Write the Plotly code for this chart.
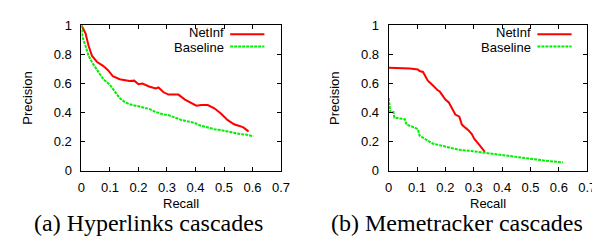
import plotly.graph_objects as go

# Hyperlinks cascades (left)
hyp_netinf_recall = [0.0, 0.014, 0.025, 0.037, 0.054, 0.077, 0.094, 0.11, 0.134, 0.168, 0.185, 0.2, 0.214, 0.237, 0.26, 0.27, 0.288, 0.305, 0.328, 0.34, 0.363, 0.38, 0.403, 0.42, 0.443, 0.466, 0.489, 0.512, 0.535, 0.557, 0.569, 0.58, 0.586]
hyp_netinf_prec = [1.0, 0.946, 0.86, 0.79, 0.75, 0.72, 0.69, 0.65, 0.63, 0.617, 0.62, 0.595, 0.60, 0.58, 0.567, 0.573, 0.54, 0.524, 0.524, 0.524, 0.49, 0.47, 0.448, 0.452, 0.452, 0.43, 0.394, 0.35, 0.32, 0.307, 0.297, 0.28, 0.27]
hyp_base_recall = [0.0, 0.003, 0.014, 0.025, 0.042, 0.06, 0.077, 0.1, 0.117, 0.134, 0.151, 0.168, 0.19, 0.214, 0.237, 0.26, 0.283, 0.305, 0.328, 0.35, 0.373, 0.396, 0.419, 0.443, 0.466, 0.489, 0.512, 0.535, 0.557, 0.58, 0.603]
hyp_base_prec = [1.0, 0.925, 0.86, 0.79, 0.73, 0.675, 0.63, 0.59, 0.545, 0.50, 0.474, 0.458, 0.448, 0.437, 0.426, 0.405, 0.39, 0.383, 0.366, 0.35, 0.34, 0.33, 0.31, 0.297, 0.286, 0.28, 0.27, 0.262, 0.253, 0.249, 0.238]

# Memetracker cascades (right)
meme_netinf_recall = [0.0, 0.063, 0.075, 0.103, 0.109, 0.121, 0.13, 0.138, 0.149, 0.161, 0.172, 0.18, 0.19, 0.2, 0.212, 0.224, 0.235, 0.249, 0.258, 0.27, 0.281, 0.293, 0.302, 0.316, 0.327, 0.339]
meme_netinf_prec = [0.708, 0.708, 0.703, 0.697, 0.686, 0.68, 0.643, 0.62, 0.6, 0.574, 0.556, 0.545, 0.513, 0.49, 0.47, 0.426, 0.387, 0.372, 0.318, 0.297, 0.28, 0.253, 0.22, 0.188, 0.156, 0.13]
meme_base_recall = [0.0, 0.003, 0.006, 0.017, 0.02, 0.057, 0.063, 0.092, 0.103, 0.109, 0.121, 0.138, 0.155, 0.178, 0.2, 0.224, 0.247, 0.281, 0.316, 0.35, 0.385, 0.419, 0.453, 0.488, 0.522, 0.557, 0.591, 0.614]
meme_base_prec = [0.50, 0.448, 0.405, 0.405, 0.366, 0.355, 0.318, 0.297, 0.286, 0.242, 0.227, 0.21, 0.188, 0.177, 0.167, 0.156, 0.145, 0.139, 0.13, 0.121, 0.113, 0.102, 0.091, 0.084, 0.076, 0.069, 0.063, 0.058]

x_ticks = [0, 0.1, 0.2, 0.3, 0.4, 0.5, 0.6, 0.7]
y_ticks = [0, 0.2, 0.4, 0.6, 0.8, 1]
series_names = ["NetInf", "Baseline"]
captions = ["(a) Hyperlinks cascades", "(b) Memetracker cascades"]
x_title = "Recall"
y_title = "Precision"

W, H = 600, 246
RED = "#ff0000"
GREEN = "#00ee00"
SANS = "Liberation Sans, Arial"
SERIF = "Liberation Serif, Times New Roman"

fig = go.Figure()

def px_x(p):
    return p / W

def px_y(p):
    return 1 - p / H

panels = [
    dict(left=71, right=275, cap_x=140,
         data=[(hyp_netinf_recall, hyp_netinf_prec), (hyp_base_recall, hyp_base_prec)]),
    dict(left=385, right=588, cap_x=455,
         data=[(meme_netinf_recall, meme_netinf_prec), (meme_base_recall, meme_base_prec)]),
]
top, bottom = 11, 166

for i, p in enumerate(panels):
    sfx = "" if i == 0 else str(i + 1)
    (rx, ry), (bx, by) = p["data"]
    fig.add_trace(go.Scatter(x=rx, y=ry, mode="lines", name=series_names[0],
                             line=dict(color=RED, width=2), xaxis="x" + sfx, yaxis="y" + sfx,
                             showlegend=False))
    fig.add_trace(go.Scatter(x=bx, y=by, mode="lines", name=series_names[1],
                             line=dict(color=GREEN, width=2, dash="3px,1px"),
                             xaxis="x" + sfx, yaxis="y" + sfx, showlegend=False))

axis_common = dict(showgrid=False, zeroline=False, showline=True, linecolor="black", linewidth=1,
                   mirror="ticks", ticks="inside", ticklen=4, tickcolor="black", tickwidth=1,
                   tickfont=dict(family=SANS, size=13, color="black"))

layout = dict(width=W, height=H, margin=dict(l=0, r=0, t=0, b=0),
              paper_bgcolor="white", plot_bgcolor="white", showlegend=False)

annotations = []
shapes = []
for i, p in enumerate(panels):
    sfx = "" if i == 0 else str(i + 1)
    layout["xaxis" + sfx] = dict(axis_common, domain=[px_x(p["left"]), px_x(p["right"])],
                                 range=[0, 0.7], tickvals=x_ticks, anchor="y" + sfx,
                                 ticklabelstandoff=5)
    layout["yaxis" + sfx] = dict(axis_common, domain=[px_y(bottom), px_y(top)],
                                 range=[0, 1], tickvals=y_ticks, anchor="x" + sfx,
                                 ticklabelstandoff=6)
    cx = (p["left"] + p["right"]) / 2
    annotations.append(dict(text=x_title, x=px_x(cx), y=px_y(201), xref="paper", yref="paper",
                            showarrow=False, xanchor="center", yanchor="middle",
                            font=dict(family=SANS, size=13, color="black")))
    annotations.append(dict(text=y_title, x=px_x(p["left"] - 56), y=px_y((top + bottom) / 2),
                            xref="paper", yref="paper", textangle=-90,
                            showarrow=False, xanchor="center", yanchor="middle",
                            font=dict(family=SANS, size=13, color="black")))
    annotations.append(dict(text=captions[i], x=px_x(p["cap_x"]), y=px_y(222),
                            xref="paper", yref="paper",
                            showarrow=False, xanchor="center", yanchor="middle",
                            font=dict(family=SERIF, size=24, color="black")))
    # key inside plot, top-right
    for name, col, dash, ty, ly in [(series_names[0], RED, "solid", 19, 20.5),
                                    (series_names[1], GREEN, "3px,1px", 35, 33.5)]:
        annotations.append(dict(text=name, x=px_x(p["left"] + 147), y=px_y(ty),
                                xref="paper", yref="paper", borderpad=0,
                                showarrow=False, xanchor="right", yanchor="middle",
                                font=dict(family=SANS, size=13, color="black")))
        shapes.append(dict(type="line", xref="paper", yref="paper",
                           x0=px_x(p["left"] + 152), x1=px_x(p["left"] + 187),
                           y0=px_y(ly), y1=px_y(ly), line=dict(color=col, width=2, dash=dash)))

layout["annotations"] = annotations
layout["shapes"] = shapes
fig.update_layout(**layout)

fig.write_html("out.html")
